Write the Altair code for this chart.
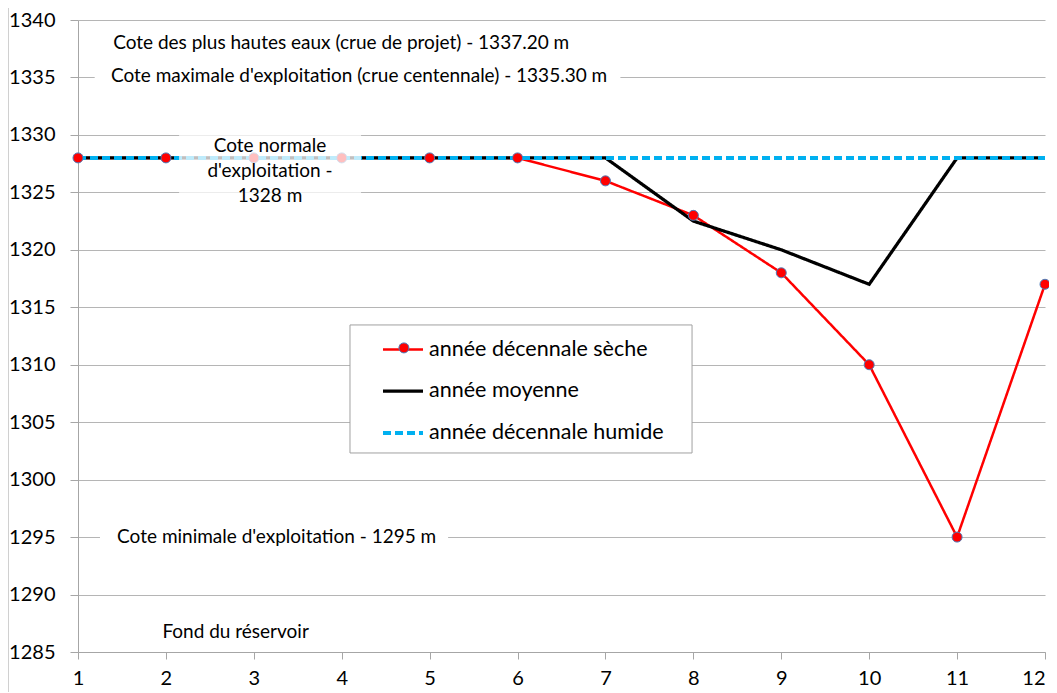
import altair as alt
import pandas as pd

# ---- data ----
mois = [1, 2, 3, 4, 5, 6, 7, 8, 9, 10, 11, 12]
seche = [1328, 1328, 1328, 1328, 1328, 1328, 1326, 1323, 1318, 1310, 1295, 1317]
moyenne = [1328, 1328, 1328, 1328, 1328, 1328, 1328, 1322.5, 1320, 1317, 1328, 1328]
humide = [1328, 1328, 1328, 1328, 1328, 1328, 1328, 1328, 1328, 1328, 1328, 1328]
series = ["année décennale sèche", "année moyenne", "année décennale humide"]
colors = ["#ff0000", "#000000", "#00b0f0"]
widths = [2.5, 4, 2.5]
dashes = [[1, 0], [1, 0], [8, 4]]
y_ticks = [1285, 1290, 1295, 1300, 1305, 1310, 1315, 1320, 1325, 1330, 1335, 1340]

# annotation texts (left-aligned, in data coordinates)
ann_text = [
    "Cote des plus hautes eaux (crue de projet) - 1337.20 m",
    "Cote maximale d'exploitation (crue centennale) - 1335.30 m",
    "Cote minimale d'exploitation - 1295 m",
    "Fond du réservoir",
]
ann_x = [1.40, 1.375, 1.445, 1.96]
ann_y = [1338.0, 1335.13, 1295.0, 1286.74]

# opaque white boxes behind annotations
box_x = [1.19, 1.25]
box_x2 = [7.17, 5.21]
box_y = [1336.0, 1295.9]
box_y2 = [1334.1, 1294.1]

# semi-transparent "Cote normale" text box
norm_text = ["Cote normale\nd'exploitation -\n1328 m"]
norm_x = [3.184]
norm_y = [1329.04]
norm_box = dict(x=[2.15], x2=[4.22], y=[1330.6], y2=[1323.6])

# legend frame
leg_box = dict(x=[4.094], x2=[7.985], y=[1313.46], y2=[1302.32])

df = pd.DataFrame({
    "mois": mois * 3,
    "cote": seche + moyenne + humide,
    "serie": [series[0]] * 12 + [series[1]] * 12 + [series[2]] * 12,
})

xs = alt.Scale(domain=[1, 12], nice=False)
ys = alt.Scale(domain=[1285, 1340], nice=False, zero=False)

LX, LY = 303, 308
legend_def = alt.Legend(
    title=None, orient="none", legendX=LX, legendY=LY, padding=0,
    symbolType="stroke", symbolSize=1600,
    labelFontSize=21.5, labelColor="black", labelOffset=4, rowPadding=9,
    labelLimit=400,
)
marker_legend = alt.Legend(
    title=None, orient="none", legendX=LX + 17.4, legendY=LY + 14.4, padding=0,
    symbolType="circle", symbolSize=100, symbolStrokeColor="#4a7ebb", symbolStrokeWidth=1,
    symbolFillColor="#ff0000", labelExpr="''", labelFontSize=1, labelOffset=0,
)

xax = alt.Axis(values=mois, format="d", grid=False, tickSize=7, labelFontSize=20, labelColor="black",
               labelPadding=9, labelFlush=False, domainColor="#a6a6a6", tickColor="#a6a6a6",
               title=None, labelOverlap=False,
               labelAlign={"condition": {"test": "datum.value == 12", "value": "right"},
                           "value": "center"})
yax = alt.Axis(values=y_ticks, format="d", grid=True, gridColor="#b5b5b5", tickSize=8, labelFontSize=20,
               labelColor="black", labelPadding=15, labelFlush=False, domainColor="#a6a6a6",
               tickColor="#a6a6a6", title=None, labelOverlap=False)

base = alt.Chart(df).encode(
    x=alt.X("mois:Q", scale=xs, axis=xax),
    y=alt.Y("cote:Q", scale=ys, axis=yax),
    color=alt.Color("serie:N", scale=alt.Scale(domain=series, range=colors), legend=legend_def),
    strokeDash=alt.StrokeDash("serie:N", scale=alt.Scale(domain=series, range=dashes),
                              legend=legend_def),
    strokeWidth=alt.StrokeWidth("serie:N", scale=alt.Scale(domain=series, range=widths),
                                legend=legend_def),
)

l_red = base.transform_filter(alt.datum.serie == series[0]).mark_line()
l_blk = base.transform_filter(alt.datum.serie == series[1]).mark_line()
l_blu = base.transform_filter(alt.datum.serie == series[2]).mark_line()

pts = alt.Chart(pd.DataFrame({"mois": mois, "cote": seche, "marqueur": [series[0]] * 12})).mark_point(
    shape="circle", filled=True, stroke="#4a7ebb", strokeWidth=1, size=100, opacity=1
).encode(
    x=alt.X("mois:Q", scale=xs), y=alt.Y("cote:Q", scale=ys),
    fill=alt.Fill("marqueur:N", scale=alt.Scale(domain=[series[0]], range=["#ff0000"]),
                  legend=marker_legend),
)

boxes = alt.Chart(pd.DataFrame({"x": box_x, "x2": box_x2, "y": box_y, "y2": box_y2})).mark_rect(
    fill="white", opacity=1
).encode(x=alt.X("x:Q", scale=xs), x2="x2:Q", y=alt.Y("y:Q", scale=ys), y2="y2:Q")

nbox = alt.Chart(pd.DataFrame(norm_box)).mark_rect(fill="white", opacity=0.75).encode(
    x=alt.X("x:Q", scale=xs), x2="x2:Q", y=alt.Y("y:Q", scale=ys), y2="y2:Q")

texts = alt.Chart(pd.DataFrame({"x": ann_x, "y": ann_y, "t": ann_text})).mark_text(
    align="left", baseline="middle", fontSize=19, color="black"
).encode(x=alt.X("x:Q", scale=xs), y=alt.Y("y:Q", scale=ys), text="t:N")

ntext = alt.Chart(pd.DataFrame({"x": norm_x, "y": norm_y, "t": norm_text})).mark_text(
    align="center", baseline="middle", fontSize=19, color="black", lineBreak="\n", lineHeight=25
).encode(x=alt.X("x:Q", scale=xs), y=alt.Y("y:Q", scale=ys), text="t:N")

lbox = alt.Chart(pd.DataFrame(leg_box)).mark_rect(fill="white", stroke="#a0a0a0", strokeWidth=1).encode(
    x=alt.X("x:Q", scale=xs), x2="x2:Q", y=alt.Y("y:Q", scale=ys), y2="y2:Q")

border = alt.Chart(pd.DataFrame({"k": [0]})).mark_rect(
    fill="transparent", stroke="#d0d0d0", strokeWidth=1
).encode(x=alt.value(-69.5), x2=alt.value(1200), y=alt.value(-12.5), y2=alt.value(900))

chart = alt.layer(border, boxes, l_red, l_blk, l_blu, pts, nbox, texts, ntext, lbox).properties(
    width=967, height=632,
    autosize=alt.AutoSizeParams(type="none"),
    padding={"left": 70, "top": 12, "right": 4, "bottom": 40},
).configure(font="Lato").configure_view(stroke=None)

chart.save("out.html", embed_options={"renderer": "svg", "actions": False})
